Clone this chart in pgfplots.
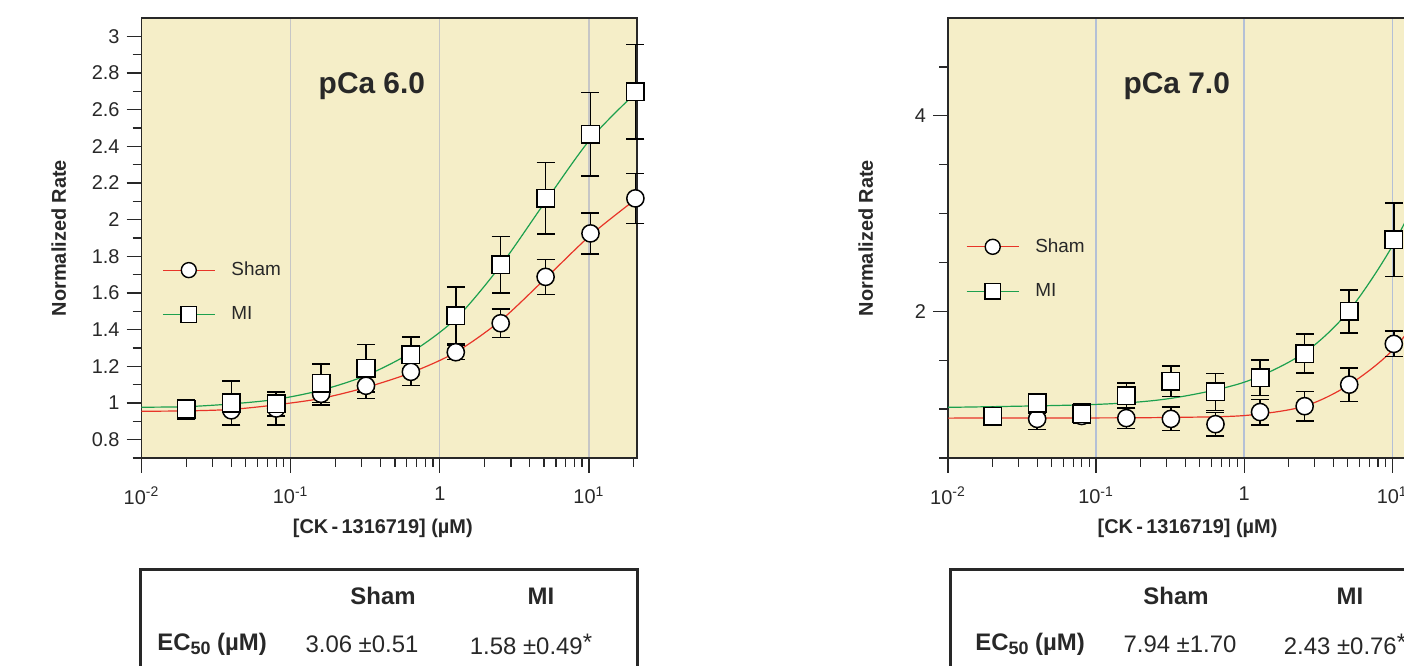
\documentclass[border=0pt]{standalone}
\usepackage{pgfplots}
\pgfplotsset{compat=1.18}
\usepackage{fontspec}
\setmainfont{Liberation Sans}

\definecolor{bgc}{RGB}{245,238,200}
\definecolor{axc}{RGB}{40,40,40}
\definecolor{gridL}{RGB}{198,198,198}
\definecolor{gridR}{RGB}{180,192,214}
\definecolor{cred}{RGB}{232,52,40}
\definecolor{cgreen}{RGB}{28,160,78}

\pgfplotsset{
  every axis/.append style={
    scale only axis, clip=false,
    axis background/.style={fill=bgc},
    xmajorgrids,
    tick align=outside, tick pos=left,
    axis line style={draw=axc, line width=0.8bp},
    major tick length=7.5bp, minor tick length=4.5bp,
    tick style={axc, line width=0.65bp},
    tick label style={font=\fontsize{10}{11}\selectfont, text=axc},
    xticklabel style={yshift=-3.5bp},
    label style={font=\bfseries\fontsize{10}{12}\selectfont, text=axc},
    xlabel style={at={(axis description cs:0.487,-0.16)}, anchor=center},
    ylabel style={at={(axis description cs:-0.167,0.5)}, anchor=center},
    legend cell align=left,
    legend style={draw=none, fill=none, inner sep=0pt, row sep=14bp,
      font=\fontsize{9.5}{11}\selectfont, text=axc, nodes={inner sep=0pt}},
  },
  fitline/.style={line width=0.6bp, smooth, no marks, forget plot},
  pts/.style={only marks, line width=0.75bp, mark options={draw=black, fill=white, line width=0.75bp},
    error bars/y dir=both, error bars/y explicit,
    error bars/error bar style={black, line width=0.75bp},
    error bars/error mark options={rotate=90, black, mark size=4.5bp, line width=0.75bp}},
}

\begin{document}
\begin{tikzpicture}
% ---------- pCa 6.0 ----------
\begin{axis}[at={(70.75bp,104bp)}, anchor=south west, width=247.75bp, height=220bp,
  xmode=log, xmin=0.01, xmax=21,
  xtick={0.01,0.1,1,10},
  xticklabels={10\textsuperscript{-2},10\textsuperscript{-1},1,10\textsuperscript{1}},
  minor xtick={0.02,0.03,0.04,0.05,0.06,0.07,0.08,0.09,0.2,0.3,0.4,0.5,0.6,0.7,0.8,0.9,2,3,4,5,6,7,8,9,20},
  xlabel={[CK\,-\,1316719] (µM)}, ylabel={Normalized Rate},
  ymin=0.7, ymax=3.1, grid style={gridL, line width=0.7bp},
  ytick={0.8,1,1.2,1.4,1.6,1.8,2,2.2,2.4,2.6,2.8,3},
  yticklabels={0.8,1,1.2,1.4,1.6,1.8,2,2.2,2.4,2.6,2.8,3},
  minor ytick={0.7,0.9,1.1,1.3,1.5,1.7,1.9,2.1,2.3,2.5,2.7,2.9},
  legend image code/.code={\draw[#1, mark repeat=2, mark phase=2] plot coordinates {(0bp,0bp) (13bp,0bp) (26bp,0bp)};},
  legend style={at={(rel axis cs:0.041,0.377)}, anchor=west, /tikz/every odd column/.append style={column sep=8bp}},
]
\addlegendimage{cred, line width=0.6bp, mark=*, mark size=3.75bp, mark options={draw=black, fill=white, line width=0.7bp}}
\addlegendentry{Sham}
\addlegendimage{cgreen, line width=0.6bp, mark=square*, mark size=3.9bp, mark options={draw=black, fill=white, line width=0.7bp}}
\addlegendentry{MI}
\addplot[fitline, cred] coordinates {(0.01,0.955) (0.02,0.957) (0.04,0.965) (0.08,0.99) (0.16,1.025) (0.32,1.085) (0.64,1.165) (1.28,1.277) (2.56,1.45) (5.12,1.68) (10.24,1.915) (20.48,2.11)};
\addplot[fitline, cgreen] coordinates {(0.01,0.977) (0.02,0.98) (0.04,0.995) (0.08,1.02) (0.16,1.07) (0.32,1.15) (0.64,1.275) (1.28,1.46) (2.56,1.75) (5.12,2.1) (10.24,2.44) (20.48,2.69)};
\addplot[pts, mark=*, mark size=4.3bp] coordinates {
  (0.02,0.96) +- (0,0.05)
  (0.04,0.96) +- (0,0.08)
  (0.08,0.97) +- (0,0.09)
  (0.16,1.05) +- (0,0.06)
  (0.32,1.094) +- (0,0.07)
  (0.64,1.17) +- (0,0.075)
  (1.28,1.277) +- (0,0.04)
  (2.56,1.435) +- (0,0.078)
  (5.12,1.688) +- (0,0.095)
  (10.24,1.925) +- (0,0.112)
  (20.48,2.116) +- (0,0.136)};
\addplot[pts, mark=square*, mark size=4.4bp] coordinates {
  (0.02,0.965) +- (0,0.055)
  (0.04,1.0) +- (0,0.12)
  (0.08,0.996) +- (0,0.067)
  (0.16,1.107) +- (0,0.105)
  (0.32,1.19) +- (0,0.13)
  (0.64,1.263) +- (0,0.096)
  (1.28,1.477) +- (0,0.156)
  (2.56,1.754) +- (0,0.155)
  (5.12,2.116) +- (0,0.195)
  (10.24,2.467) +- (0,0.228)
  (20.48,2.698) +- (0,0.258)};
\node[font=\bfseries\fontsize{15}{17}\selectfont, text=axc] at (rel axis cs:0.465,0.845) {pCa 6.0};
\end{axis}

% ---------- pCa 7.0 ----------
\begin{axis}[at={(474bp,104bp)}, anchor=south west, width=246bp, height=220bp,
  xmode=log, xmin=0.01, xmax=21,
  xtick={0.01,0.1,1,10},
  xticklabels={10\textsuperscript{-2},10\textsuperscript{-1},1,10\textsuperscript{1}},
  minor xtick={0.02,0.03,0.04,0.05,0.06,0.07,0.08,0.09,0.2,0.3,0.4,0.5,0.6,0.7,0.8,0.9,2,3,4,5,6,7,8,9,20},
  xlabel={[CK\,-\,1316719] (µM)}, ylabel={Normalized Rate},
  ymin=0.5, ymax=5, grid style={gridR, line width=0.7bp},
  ytick={2,4}, yticklabels={2,4},
  minor ytick={0.5,1,1.5,2.5,3,3.5,4.5},
  legend image code/.code={\draw[#1, mark repeat=2, mark phase=2] plot coordinates {(0bp,0bp) (13bp,0bp) (26bp,0bp)};},
  legend style={at={(rel axis cs:0.036,0.43)}, anchor=west, /tikz/every odd column/.append style={column sep=8bp}},
]
\addlegendimage{cred, line width=0.6bp, mark=*, mark size=3.75bp, mark options={draw=black, fill=white, line width=0.7bp}}
\addlegendentry{Sham}
\addlegendimage{cgreen, line width=0.6bp, mark=square*, mark size=3.9bp, mark options={draw=black, fill=white, line width=0.7bp}}
\addlegendentry{MI}
\addplot[fitline, cred] coordinates {(0.01,0.908) (0.1,0.91) (0.32,0.915) (1,0.934) (2.5,1.026) (5,1.24) (10,1.6) (20.48,2.2)};
\addplot[fitline, cgreen] coordinates {(0.01,1.018) (0.1,1.048) (0.32,1.11) (1,1.275) (2.5,1.568) (5,1.99) (10,2.667) (20.48,3.6)};
\addplot[pts, mark=*, mark size=4.3bp] coordinates {
  (0.02,0.93) +- (0,0.04)
  (0.04,0.90) +- (0,0.11)
  (0.08,0.93) +- (0,0.06)
  (0.16,0.908) +- (0,0.105)
  (0.32,0.90) +- (0,0.12)
  (0.64,0.846) +- (0,0.12)
  (1.28,0.97) +- (0,0.13)
  (2.56,1.03) +- (0,0.15)
  (5.12,1.25) +- (0,0.17)
  (10.24,1.667) +- (0,0.13)
  (20.48,2.3) +- (0,0.2)};
\addplot[pts, mark=square*, mark size=4.4bp] coordinates {
  (0.02,0.927) +- (0,0.04)
  (0.04,1.062) +- (0,0.1)
  (0.08,0.952) +- (0,0.1)
  (0.16,1.135) +- (0,0.13)
  (0.32,1.286) +- (0,0.155)
  (0.64,1.176) +- (0,0.19)
  (1.28,1.32) +- (0,0.18)
  (2.56,1.568) +- (0,0.2)
  (5.12,2.0) +- (0,0.22)
  (10.24,2.733) +- (0,0.375)
  (20.48,3.6) +- (0,0.4)};
\node[font=\bfseries\fontsize{15}{17}\selectfont, text=axc] at (rel axis cs:0.465,0.845) {pCa 7.0};
\end{axis}

% ---------- EC50 tables ----------
\begin{scope}[every node/.style={font=\fontsize{12}{14}\selectfont, text=axc, inner sep=0pt}]
\draw[axc, line width=1.5bp] (70bp,-20bp) |- (318.75bp,48.25bp) -- (318.75bp,-20bp);
\node[font=\bfseries\fontsize{12}{14}\selectfont] at (191.5bp,35bp) {Sham};
\node[font=\bfseries\fontsize{12}{14}\selectfont] at (270.5bp,35bp) {MI};
\node[font=\bfseries\fontsize{12}{14}\selectfont, anchor=west] at (78.5bp,11bp) {EC\raisebox{-0.35ex}{\fontsize{9}{10}\selectfont 50} (µM)};
\node at (181bp,11bp) {3.06 ±0.51};
\node at (265.5bp,11bp) {1.58 ±0.49\raisebox{0.3ex}{*}};

\draw[axc, line width=1.5bp] (475bp,-20bp) |- (740bp,48.25bp);
\node[font=\bfseries\fontsize{12}{14}\selectfont] at (588bp,35bp) {Sham};
\node[font=\bfseries\fontsize{12}{14}\selectfont] at (675bp,35bp) {MI};
\node[font=\bfseries\fontsize{12}{14}\selectfont, anchor=west] at (487.5bp,11bp) {EC\raisebox{-0.35ex}{\fontsize{9}{10}\selectfont 50} (µM)};
\node at (590bp,11bp) {7.94 ±1.70};
\node at (672.5bp,11bp) {2.43 ±0.76\raisebox{0.3ex}{*}};
\end{scope}

\pgfresetboundingbox
\useasboundingbox (0,0) rectangle (702bp,333bp);
\end{tikzpicture}
\end{document}
